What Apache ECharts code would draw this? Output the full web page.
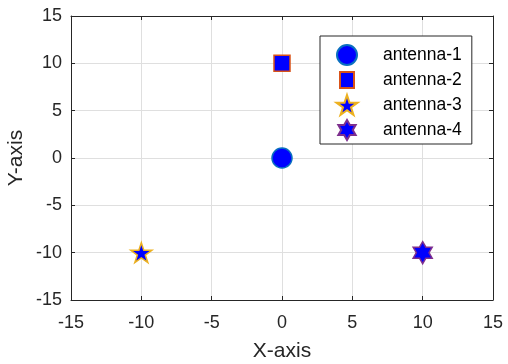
<!DOCTYPE html>
<html><head><meta charset="utf-8">
<script src="https://cdn.jsdelivr.net/npm/echarts@6/dist/echarts.min.js"></script>
<style>html,body{margin:0;padding:0;background:#fff}#c{width:508px;height:364px}</style>
</head><body><div id="c"></div>
<script>
const seriesNames = ['antenna-1','antenna-2','antenna-3','antenna-4'];
const xValues = [0, 0, -10, 10];
const yValues = [0, 10, -10, -10];
const axisTicks = [-15, -10, -5, 0, 5, 10, 15];

const STAR = 'path://M100,0 L122.45,69.1 L195.1,69.1 L136.3,111.8 L158.8,180.9 L100,138.2 L41.2,180.9 L63.7,111.8 L4.9,69.1 L77.55,69.1 Z';
const HEX = 'path://M100,0 L128.87,50 L186.6,50 L157.7,100 L186.6,150 L128.87,150 L100,200 L71.13,150 L13.4,150 L42.3,100 L13.4,50 L71.13,50 Z';
const SQ_LEG = 'path://M0,0 M22,20 M4,2 L18,2 L18,18 L4,18 Z';

const styles = [
  {symbol:'circle', size:20, color:'#0000ff', border:'#0a6fc0', legendIcon:'circle'},
  {symbol:'rect', size:16, color:'#0000ff', border:'#D95319', legendIcon:SQ_LEG},
  {symbol:STAR, size:21, color:'#0000ff', border:'#EDB120', legendIcon:STAR},
  {symbol:HEX, size:22, color:'#0000ff', border:'#7E2F8E', legendIcon:HEX}
];

const tc = '#262626';
const font = 'Liberation Sans, Arial, sans-serif';
function mkX(pos, labels){
  return {type:'value', position:pos, min:-15, max:15, interval:5,
    axisLine:{show:true, onZero:false, lineStyle:{color:tc, width:1}},
    axisTick:{show:true, inside:true, length:4, lineStyle:{color:tc}},
    axisLabel:{show:labels, color:tc, fontSize:18, fontFamily:font, margin:14},
    splitLine:{show:labels, lineStyle:{color:'#dfdfdf', width:1}},
    name: labels ? 'X-axis' : '', nameLocation:'middle', nameGap:41,
    nameTextStyle:{color:tc, fontSize:21, fontFamily:font}};
}
function mkY(pos, labels){
  return {type:'value', position:pos, min:-15, max:15, interval:5,
    axisLine:{show:true, onZero:false, lineStyle:{color:tc, width:1}},
    axisTick:{show:true, inside:true, length:4, lineStyle:{color:tc}},
    axisLabel:{show:labels, color:tc, fontSize:18, fontFamily:font, margin:9},
    splitLine:{show:labels, lineStyle:{color:'#dfdfdf', width:1}}};
}

const chart = echarts.init(document.getElementById('c'), null, {renderer:'canvas'});
chart.setOption({
  animation:false,
  backgroundColor:'#fff',
  grid:{left:71, right:15, top:16, bottom:64, containLabel:false, outerBoundsMode:'none'},
  xAxis:[mkX('bottom', true), mkX('top', false)],
  yAxis:[mkY('left', true), mkY('right', false)],
  graphic:[{type:'text', x:16, y:158, rotation:Math.PI/2,
    style:{text:'Y-axis', fill:tc, font:'21px Liberation Sans, Arial, sans-serif', align:'center', verticalAlign:'middle'}}],
  legend:{
    orient:'vertical', left:320, top:36,
    padding:[8,10,3,15], itemGap:3, itemWidth:22, itemHeight:20,
    backgroundColor:'#fff', borderColor:tc, borderWidth:1,
    textStyle:{color:'#000', fontSize:17.5, lineHeight:20, fontFamily:font, padding:[0,0,0,20]},
    data: seriesNames.map((n,i)=>({name:n, icon:styles[i].legendIcon}))
  },
  series: seriesNames.map((n,i)=>({
    name:n, type:'scatter', xAxisIndex:0, yAxisIndex:0,
    symbol:styles[i].symbol, symbolSize:styles[i].size, symbolKeepAspect:true,
    itemStyle:{color:styles[i].color, borderColor:styles[i].border, borderWidth:1.5, opacity:1},
    data:[[xValues[i], yValues[i]]]
  }))
});
</script></body></html>
